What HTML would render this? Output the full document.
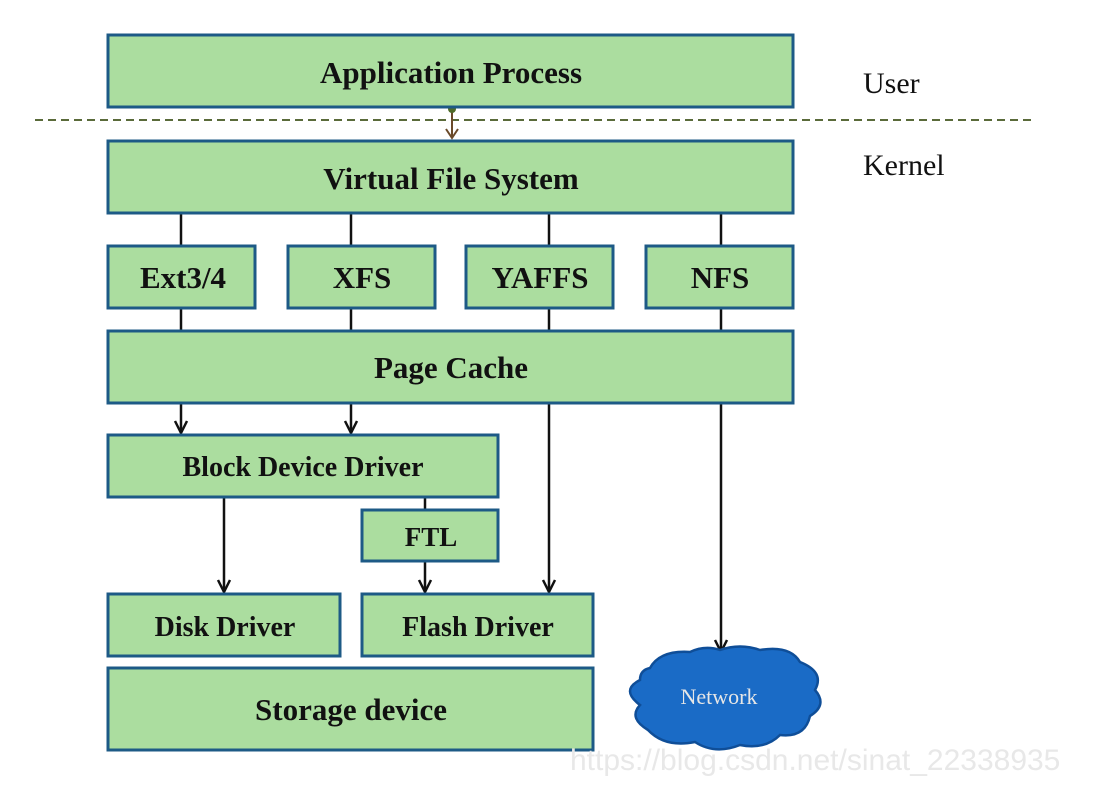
<!DOCTYPE html>
<html><head><meta charset="utf-8"><style>
body{margin:0;background:#fff;}
svg{display:block;font-family:"Liberation Serif",serif;}
.b{fill:#abdd9f;stroke:#1d5a86;stroke-width:3;}
.t{font-weight:bold;font-size:31px;text-anchor:middle;fill:#111;}
.l{stroke:#111;stroke-width:2.5;fill:none;}
.h{stroke:#111;stroke-width:2.5;fill:none;}
</style></head><body>
<svg width="1108" height="796" viewBox="0 0 1108 796">
<line class="l" x1="181" y1="213" x2="181" y2="246"/><line class="l" x1="351" y1="213" x2="351" y2="246"/>
<line class="l" x1="549" y1="213" x2="549" y2="246"/><line class="l" x1="721" y1="213" x2="721" y2="246"/>
<line class="l" x1="181" y1="308" x2="181" y2="331"/><line class="l" x1="351" y1="308" x2="351" y2="331"/>
<line class="l" x1="549" y1="308" x2="549" y2="331"/><line class="l" x1="721" y1="308" x2="721" y2="331"/>
<line class="l" x1="181" y1="403" x2="181" y2="433"/><path class="h" d="M175,421 L181,433 L187,421"/>
<line class="l" x1="351" y1="403" x2="351" y2="433"/><path class="h" d="M345,421 L351,433 L357,421"/>
<line class="l" x1="549" y1="403" x2="549" y2="592"/><path class="h" d="M543,580 L549,592 L555,580"/>
<line class="l" x1="721" y1="403" x2="721" y2="652"/><path class="h" d="M715,640 L721,652 L727,640"/>
<line class="l" x1="224" y1="497" x2="224" y2="592"/><path class="h" d="M218,580 L224,592 L230,580"/>
<line class="l" x1="425" y1="497" x2="425" y2="510"/>
<line class="l" x1="425" y1="561" x2="425" y2="592"/><path class="h" d="M419,580 L425,592 L431,580"/>
<line x1="35" y1="120" x2="1035" y2="120" stroke="#5a6a3a" stroke-width="2" stroke-dasharray="8,5"/>
<line x1="452" y1="108" x2="452" y2="138" stroke="#6b4a2a" stroke-width="2"/>
<path d="M446,129 L452,138 L458,129" fill="none" stroke="#6b4a2a" stroke-width="2"/>
<circle cx="452" cy="109" r="4" fill="#4f6b2a"/>
<rect class="b" x="108" y="35" width="685" height="72"/><text class="t" x="451" y="83">Application Process</text>
<rect class="b" x="108" y="141" width="685" height="72"/><text class="t" x="451" y="189">Virtual File System</text>
<rect class="b" x="108" y="246" width="147" height="62"/><text class="t" x="183" y="288">Ext3/4</text>
<rect class="b" x="288" y="246" width="147" height="62"/><text class="t" x="362" y="288">XFS</text>
<rect class="b" x="466" y="246" width="147" height="62"/><text class="t" x="540" y="288">YAFFS</text>
<rect class="b" x="646" y="246" width="147" height="62"/><text class="t" x="720" y="288">NFS</text>
<rect class="b" x="108" y="331" width="685" height="72"/><text class="t" x="451" y="378">Page Cache</text>
<rect class="b" x="108" y="435" width="390" height="62"/><text class="t" x="303" y="476" style="font-size:28px">Block Device Driver</text>
<rect class="b" x="362" y="510" width="136" height="51"/><text class="t" x="431" y="546" style="font-size:27px">FTL</text>
<rect class="b" x="108" y="594" width="232" height="62"/><text class="t" x="225" y="636" style="font-size:28px">Disk Driver</text>
<rect class="b" x="362" y="594" width="231" height="62"/><text class="t" x="478" y="636" style="font-size:28px">Flash Driver</text>
<rect class="b" x="108" y="668" width="485" height="82"/><text class="t" x="351" y="720">Storage device</text>
<path d="M650,668 Q660,650 690,652 Q705,645 720,650 Q740,643 760,650 Q790,645 800,662 Q825,672 815,690 Q828,705 810,716 Q805,738 780,735 Q765,750 740,745 Q715,755 695,742 Q665,748 648,730 Q628,718 640,705 Q620,690 640,680 Q640,670 650,668 Z" fill="#1a6bc6" stroke="#0f4e98" stroke-width="2.5"/>
<text x="719" y="704" text-anchor="middle" font-size="22" fill="#e6e6e6">Network</text>
<text x="863" y="93" font-size="30" fill="#111">User</text>
<text x="863" y="175" font-size="30" fill="#111">Kernel</text>
<text x="570" y="770" font-family="Liberation Sans,sans-serif" font-size="30" fill="#e8e8e8">https://blog.csdn.net/sinat_22338935</text>
</svg>
</body></html>
